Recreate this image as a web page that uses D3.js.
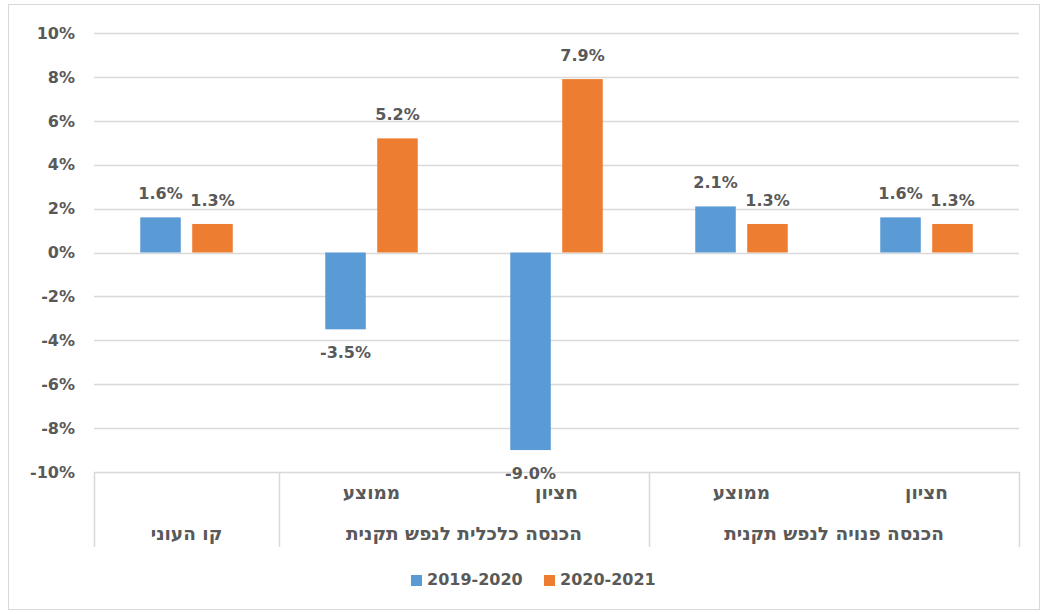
<!DOCTYPE html>
<head>
  <meta charset="utf-8">
  <script src="https://d3js.org/d3.v7.min.js"></script>
  <style>
    body { margin:0; background:#fff; }
    text { font-family: "DejaVu Sans", "Liberation Sans", sans-serif; font-weight: bold; fill: #595959; }
  </style>
</head>
<body>
<script>
  // data
  var categories = ["kav", "kal_avg", "kal_med", "pan_avg", "pan_med"];
  var subLabels = ["", "ממוצע", "חציון", "ממוצע", "חציון"];
  var groups = [
    {name: "קו העוני", from: 0, to: 0},
    {name: "הכנסה כלכלית לנפש תקנית", from: 1, to: 2},
    {name: "הכנסה פנויה לנפש תקנית", from: 3, to: 4}
  ];
  var seriesNames = ["2019-2020", "2020-2021"];
  var values1920 = [1.6, -3.5, -9.0, 2.1, 1.6];
  var values2021 = [1.3, 5.2, 7.9, 1.3, 1.3];
  var yTicks = [-10, -8, -6, -4, -2, 0, 2, 4, 6, 8, 10];
  var colors = ["#5B9BD5", "#ED7D31"];

  var W = 1043, H = 614;
  var plotL = 94, plotR = 1019, plotT = 33, plotB = 472;
  var fmt = function(v) { return d3.format(".1f")(v).replace("−", "-") + "%"; };

  var svg = d3.select("body").append("svg")
    .attr("width", W).attr("height", H);

  // outer frame
  svg.append("rect")
    .attr("x", 8.5).attr("y", 4.5)
    .attr("width", 1031).attr("height", 605)
    .attr("fill", "none").attr("stroke", "#d9d9d9");

  var x0 = d3.scaleBand().domain(categories).range([plotL, plotR]);
  var slot = x0.bandwidth();
  var x1 = d3.scaleBand().domain(seriesNames)
    .range([slot * 0.25, slot * 0.75]).paddingInner(0.22);
  var y = d3.scaleLinear().domain([-10, 10]).range([plotB, plotT]);

  // grid
  svg.append("g").selectAll("line")
    .data(yTicks).enter().append("line")
    .attr("x1", plotL).attr("x2", plotR)
    .attr("y1", function(d) { return Math.round(y(d)) + 0.5; })
    .attr("y2", function(d) { return Math.round(y(d)) + 0.5; })
    .attr("stroke", "#d9d9d9").attr("stroke-width", 1.5);

  // y labels
  svg.append("g").selectAll("text")
    .data(yTicks).enter().append("text")
    .attr("x", 75).attr("y", function(d) { return y(d); })
    .attr("dy", "0.36em")
    .attr("text-anchor", "end")
    .style("font-size", "16px")
    .text(function(d) { return d + "%"; });

  // bars
  var rows = categories.map(function(c, i) {
    return {cat: c, vals: [values1920[i], values2021[i]]};
  });
  var g = svg.append("g").selectAll("g")
    .data(rows).enter().append("g")
    .attr("transform", function(d) { return "translate(" + x0(d.cat) + ",0)"; });

  g.selectAll("rect")
    .data(function(d) { return d.vals.map(function(v, k) { return {s: seriesNames[k], v: v, k: k}; }); })
    .enter().append("rect")
    .attr("x", function(d) { return x1(d.s); })
    .attr("width", x1.bandwidth())
    .attr("y", function(d) { return y(Math.max(0, d.v)); })
    .attr("height", function(d) { return Math.abs(y(d.v) - y(0)); })
    .attr("fill", function(d) { return colors[d.k]; });

  g.selectAll("text.val")
    .data(function(d) { return d.vals.map(function(v, k) { return {s: seriesNames[k], v: v, k: k}; }); })
    .enter().append("text")
    .attr("class", "val")
    .attr("x", function(d) { return x1(d.s) + x1.bandwidth() / 2; })
    .attr("y", function(d) { return d.v >= 0 ? y(d.v) - 18 : y(d.v) + 29; })
    .attr("text-anchor", "middle")
    .style("font-size", "16px")
    .text(function(d) { return fmt(d.v); });

  // multi-level category axis
  var axisBottom = 547;
  var seps = [plotL, x0(categories[1]), x0(categories[3]), plotR];
  svg.append("g").selectAll("line")
    .data(seps).enter().append("line")
    .attr("x1", function(d) { return Math.round(d) + 0.5; })
    .attr("x2", function(d) { return Math.round(d) + 0.5; })
    .attr("y1", plotB).attr("y2", axisBottom)
    .attr("stroke", "#d9d9d9").attr("stroke-width", 1.5);

  svg.append("g").selectAll("text")
    .data(categories).enter().append("text")
    .attr("x", function(d) { return x0(d) + slot / 2; })
    .attr("y", 499)
    .attr("text-anchor", "middle")
    .attr("direction", "rtl")
    .style("font-size", "18.5px")
    .text(function(d, i) { return subLabels[i]; });

  svg.append("g").selectAll("text")
    .data(groups).enter().append("text")
    .attr("x", function(d) { return (x0(categories[d.from]) + x0(categories[d.to]) + slot) / 2; })
    .attr("y", 540)
    .attr("text-anchor", "middle")
    .attr("direction", "rtl")
    .style("font-size", "18.5px")
    .text(function(d) { return d.name; });

  // legend
  var legX = [411, 544];
  var leg = svg.append("g").selectAll("g")
    .data(seriesNames).enter().append("g")
    .attr("transform", function(d, i) { return "translate(" + legX[i] + ",575)"; });
  leg.append("rect")
    .attr("width", 11).attr("height", 11)
    .attr("fill", function(d, i) { return colors[i]; });
  leg.append("text")
    .attr("x", 16).attr("y", 4).attr("dy", "0.36em")
    .style("font-size", "16px")
    .text(function(d) { return d; });
</script>
</body>
